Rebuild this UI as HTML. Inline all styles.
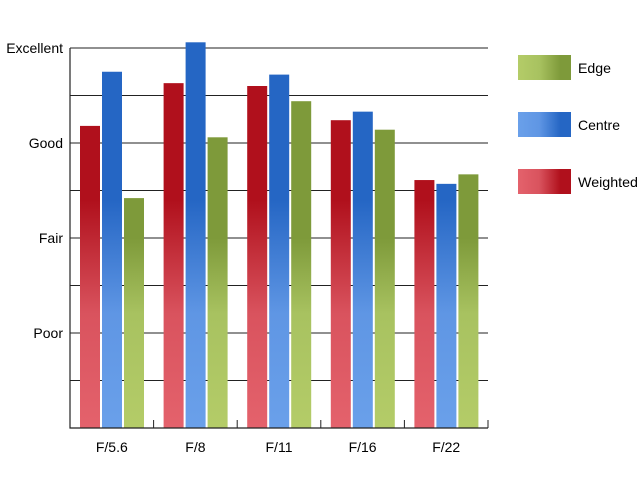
<!DOCTYPE html>
<html><head><meta charset="utf-8"><style>
html,body{margin:0;padding:0;background:#fff;}
svg{display:block;font-family:"Liberation Sans",sans-serif;}
</style></head><body>
<svg id="chart" width="640" height="480" viewBox="0 0 640 480" xmlns="http://www.w3.org/2000/svg">
<defs>
<linearGradient id="gW" gradientUnits="userSpaceOnUse" x1="0" y1="428" x2="0" y2="48"><stop offset="0" stop-color="#e4626c"/><stop offset="0.3" stop-color="#d9535e"/><stop offset="0.6" stop-color="#b0101c"/><stop offset="1" stop-color="#b0101c"/></linearGradient>
<linearGradient id="gC" gradientUnits="userSpaceOnUse" x1="0" y1="428" x2="0" y2="48"><stop offset="0" stop-color="#6aa0ea"/><stop offset="0.3" stop-color="#5f96e4"/><stop offset="0.6" stop-color="#2566c4"/><stop offset="1" stop-color="#2566c4"/></linearGradient>
<linearGradient id="gE" gradientUnits="userSpaceOnUse" x1="0" y1="428" x2="0" y2="48"><stop offset="0" stop-color="#b4cc68"/><stop offset="0.3" stop-color="#a8c260"/><stop offset="0.5" stop-color="#7e9a3a"/><stop offset="1" stop-color="#7e9a3a"/></linearGradient>
<linearGradient id="lW" x1="0" y1="0" x2="1" y2="0"><stop offset="0" stop-color="#e4626c"/><stop offset="0.4" stop-color="#d9535e"/><stop offset="0.8" stop-color="#b0101c"/></linearGradient>
<linearGradient id="lC" x1="0" y1="0" x2="1" y2="0"><stop offset="0" stop-color="#6aa0ea"/><stop offset="0.4" stop-color="#5f96e4"/><stop offset="0.8" stop-color="#2566c4"/></linearGradient>
<linearGradient id="lE" x1="0" y1="0" x2="1" y2="0"><stop offset="0" stop-color="#b4cc68"/><stop offset="0.4" stop-color="#a8c260"/><stop offset="0.8" stop-color="#7e9a3a"/></linearGradient>
</defs>
<g id="grid"></g><g id="bars"></g><g id="axes"></g>
<g>
<rect x="518" y="55" width="53" height="25" fill="url(#lE)"/>
<text x="578" y="73" font-size="14" textLength="33" lengthAdjust="spacingAndGlyphs">Edge</text>
<rect x="518" y="112" width="53" height="25" fill="url(#lC)"/>
<text x="578" y="130" font-size="14" textLength="42" lengthAdjust="spacingAndGlyphs">Centre</text>
<rect x="518" y="169" width="53" height="25" fill="url(#lW)"/>
<text x="578" y="187" font-size="14" textLength="60" lengthAdjust="spacingAndGlyphs">Weighted</text>
</g>
</svg>
<script>
const categories = ["F/5.6","F/8","F/11","F/16","F/22"];
const weighted = [3.18,3.63,3.6,3.24,2.61];
const centre = [3.75,4.06,3.72,3.33,2.57];
const edge = [2.42,3.06,3.44,3.14,2.67];
const yTickLabels = ["Poor","Fair","Good","Excellent"];
const NS="http://www.w3.org/2000/svg";
const X0=70,X1=488,Y0=428,Y1=48,YMAX=4;
const yS=v=>Y0-(v/YMAX)*(Y0-Y1);
const gw=(X1-X0)/categories.length;
const grid=document.getElementById('grid'),bars=document.getElementById('bars'),axes=document.getElementById('axes');
function mk(t,a,p){const e=document.createElementNS(NS,t);for(const k in a)e.setAttribute(k,a[k]);p.appendChild(e);return e;}
for(let i=1;i<=YMAX*2;i++){const y=yS(i/2);
 const l=mk('line',{x1:X0,x2:X1,y1:y,y2:y,stroke:'#222','stroke-width':1},grid);
 
 }
yTickLabels.forEach((t,i)=>{const y=yS(i+1);
 const tx=mk('text',{x:63,y:y+5,'text-anchor':'end','font-size':14},axes);tx.textContent=t;
 
 });
const series=[[weighted,'url(#gW)','weighted'],[centre,'url(#gC)','centre'],[edge,'url(#gE)','edge']];
categories.forEach((c,i)=>{const gx=X0+i*gw;
 series.forEach((s,j)=>{const v=s[0][i];const x=gx+10+j*22;
  const r=mk('rect',{x:x,y:yS(v),width:20,height:Y0-yS(v),fill:s[1]},bars);
  
  });
 const tx=mk('text',{x:gx+gw/2,y:452,'text-anchor':'middle','font-size':14},axes);tx.textContent=c;
 
 
 const tk=mk('line',{x1:gx+gw,x2:gx+gw,y1:Y0-8,y2:Y0,stroke:'#222'},axes);
 
 });
const ax=mk('path',{d:`M${X0} ${Y1}V${Y0}H${X1}`,fill:'none',stroke:'#222','stroke-width':1.2},axes);


</script>
</body></html>
